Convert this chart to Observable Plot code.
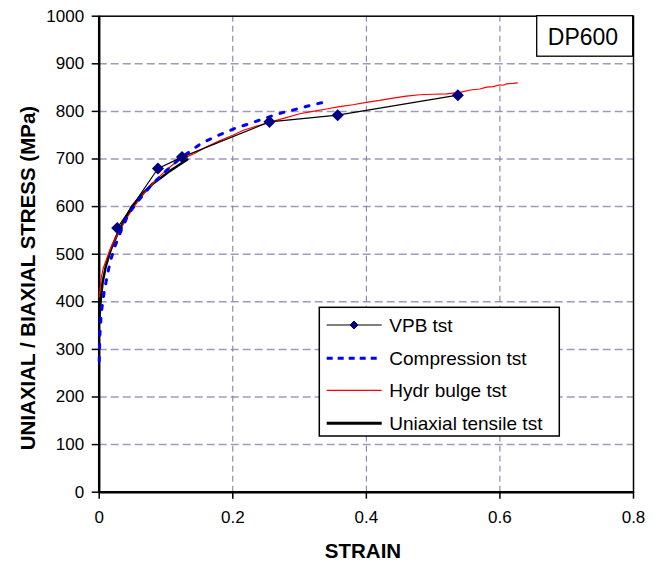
<!DOCTYPE html>
<html><head><meta charset="utf-8">
<script src="https://cdn.jsdelivr.net/npm/d3@7"></script>
<script src="https://cdn.jsdelivr.net/npm/@observablehq/plot@0.6"></script>
<style>body{margin:0;background:#fff;} svg{font-family:"Liberation Sans",Arial,sans-serif;}</style>
</head><body><div id="chart"></div>
<script>
// ---- data ----
const xTicks = [0, 0.2, 0.4, 0.6, 0.8];
const yTicks = [0, 100, 200, 300, 400, 500, 600, 700, 800, 900, 1000];
const xGrid = [0.2, 0.4, 0.6];
const yGrid = [100, 200, 300, 400, 500, 600, 700, 800, 900];

const seriesNames = ["VPB tst", "Compression tst", "Hydr bulge tst", "Uniaxial tensile tst"];

const vpbStrain = [0.027, 0.088, 0.124, 0.255, 0.357, 0.537];
const vpbStress = [555, 680, 704, 778, 792, 834];

const compStrain = [0, 0.001, 0.003, 0.007, 0.012, 0.017, 0.024, 0.033, 0.044, 0.06, 0.08, 0.1, 0.12, 0.135, 0.152, 0.177, 0.201, 0.224, 0.249, 0.271, 0.296, 0.32, 0.345];
const compStress = [275, 330, 375, 417, 455, 487, 518, 550, 585, 615, 648, 675, 700, 715, 732, 749, 763, 774, 786, 796, 805, 814, 822];

const hydrStrain = [0, 0.003, 0.006, 0.009, 0.015, 0.02, 0.03, 0.04, 0.05, 0.06, 0.07, 0.08, 0.09, 0.1, 0.11, 0.12, 0.13, 0.142, 0.16, 0.18, 0.2, 0.217, 0.24, 0.26, 0.28, 0.3, 0.32, 0.34, 0.36, 0.38, 0.4, 0.42, 0.44, 0.46, 0.48, 0.5, 0.52, 0.54, 0.556, 0.57, 0.58, 0.59, 0.6, 0.605, 0.61, 0.62, 0.626];
const hydrStress = [410, 450, 470, 482, 505, 522, 548, 573, 595, 615, 633, 648, 663, 676, 688, 697, 704, 711, 725, 738, 750, 761, 771, 779, 787, 795, 800, 805, 810, 814, 819, 823, 828, 832, 835, 836, 837, 840, 845, 847, 851, 852, 856, 855, 858, 859, 860];

const uniStrain = [0, 0.002, 0.005, 0.01, 0.017, 0.025, 0.035, 0.049, 0.067, 0.08, 0.092, 0.105, 0.12, 0.132];
const uniStress = [360, 400, 440, 475, 508, 535, 565, 600, 630, 648, 660, 674, 688, 699];

const zip = (xs, ys) => xs.map((x, i) => ({x, y: ys[i]}));
const vpb = zip(vpbStrain, vpbStress);
const comp = zip(compStrain, compStress);
const hydr = zip(hydrStrain, hydrStress);
const uni = zip(uniStrain, uniStress);

const W = 661, H = 565, mL = 98.7, mR = 28, mT = 15.7, mB = 73.3;

const plot = Plot.plot({
  width: W, height: H,
  marginLeft: mL, marginRight: mR, marginTop: mT, marginBottom: mB,
  style: {fontFamily: "Liberation Sans, Arial, sans-serif", fontSize: "17px", background: "white", color: "black"},
  x: {domain: [0, 0.8]},
  y: {domain: [0, 1000]},
  marks: [
    Plot.ruleY(yGrid, {stroke: "#9c9cbe", strokeWidth: 1.5, strokeDasharray: "8,4"}),
    Plot.ruleX(xGrid, {stroke: "#7474ae", strokeWidth: 1, strokeDasharray: "6,4"}),
    Plot.frame({stroke: "black", strokeWidth: 1.5}),
    Plot.ruleX([0], {stroke: "black", strokeWidth: 2.5}),
    Plot.ruleY([0], {stroke: "black", strokeWidth: 2.5}),
    Plot.axisX({ticks: xTicks, tickFormat: d => String(d), tickSize: 7, tickPadding: 12, label: null, fontSize: 17, strokeWidth: 1.5}),
    Plot.axisY({ticks: yTicks, tickFormat: d => String(d), tickSize: 7, tickPadding: 8, label: null, fontSize: 17, strokeWidth: 1.5}),
    Plot.line(uni, {x: "x", y: "y", stroke: "black", strokeWidth: 2.5}),
    Plot.line(hydr, {x: "x", y: "y", stroke: "#ff0000", strokeWidth: 1.2}),
    Plot.line(comp, {x: "x", y: "y", stroke: "#0000ff", strokeWidth: 3, strokeDasharray: "4,9"}),
    Plot.line(vpb, {x: "x", y: "y", stroke: "black", strokeWidth: 1.2}),
    Plot.dot(vpb, {x: "x", y: "y", symbol: "diamond2", r: 4.5, fill: "#000080", stroke: "#000080"})
  ]
});
document.getElementById("chart").appendChild(plot);

const svg = d3.select(plot);
const fontFam = "Liberation Sans, Arial, sans-serif";

// Axis titles
svg.append("text").attr("x", 363).attr("y", 558).attr("text-anchor", "middle")
  .attr("font-family", fontFam).attr("font-weight", "bold").attr("font-size", 20.5).text("STRAIN");
svg.append("text").attr("transform", "translate(35,278) rotate(-90)").attr("text-anchor", "middle")
  .attr("font-family", fontFam).attr("font-weight", "bold").attr("font-size", 20.5).text("UNIAXIAL / BIAXIAL STRESS (MPa)");

// DP600 box
svg.append("rect").attr("x", 536.7).attr("y", 15.7).attr("width", 96).attr("height", 40.5)
  .attr("fill", "white").attr("stroke", "black").attr("stroke-width", 1.3);
svg.append("text").attr("x", 583).attr("y", 44.5).attr("text-anchor", "middle")
  .attr("font-family", fontFam).attr("font-size", 23).text("DP600");

// Legend
const lg = svg.append("g");
lg.append("rect").attr("x", 319.3).attr("y", 307.3).attr("width", 240).attr("height", 128.7)
  .attr("fill", "white").attr("stroke", "black").attr("stroke-width", 1.5);
const rows = [325, 358.3, 390.3, 423.3];
const styles = [
  {stroke: "black", w: 1.2, dash: null},
  {stroke: "#0000ff", w: 3, dash: "6,5"},
  {stroke: "#ff0000", w: 1.2, dash: null},
  {stroke: "black", w: 3, dash: null}
];
rows.forEach((yy, i) => {
  const s = styles[i];
  const l = lg.append("line").attr("x1", 326.7).attr("x2", 381.7).attr("y1", yy).attr("y2", yy)
    .attr("stroke", s.stroke).attr("stroke-width", s.w);
  if (s.dash) l.attr("stroke-dasharray", s.dash);
  if (i === 0) lg.append("path").attr("d", d3.symbol(d3.symbolDiamond2, 40)()).attr("transform", `translate(354,${yy})`)
    .attr("fill", "#000080").attr("stroke", "#000080");
  lg.append("text").attr("x", 389.3).attr("y", yy).attr("dy", "0.35em").attr("text-anchor", "start")
    .attr("font-family", fontFam).attr("font-size", 19).text(seriesNames[i]);
});
</script>
</body></html>
